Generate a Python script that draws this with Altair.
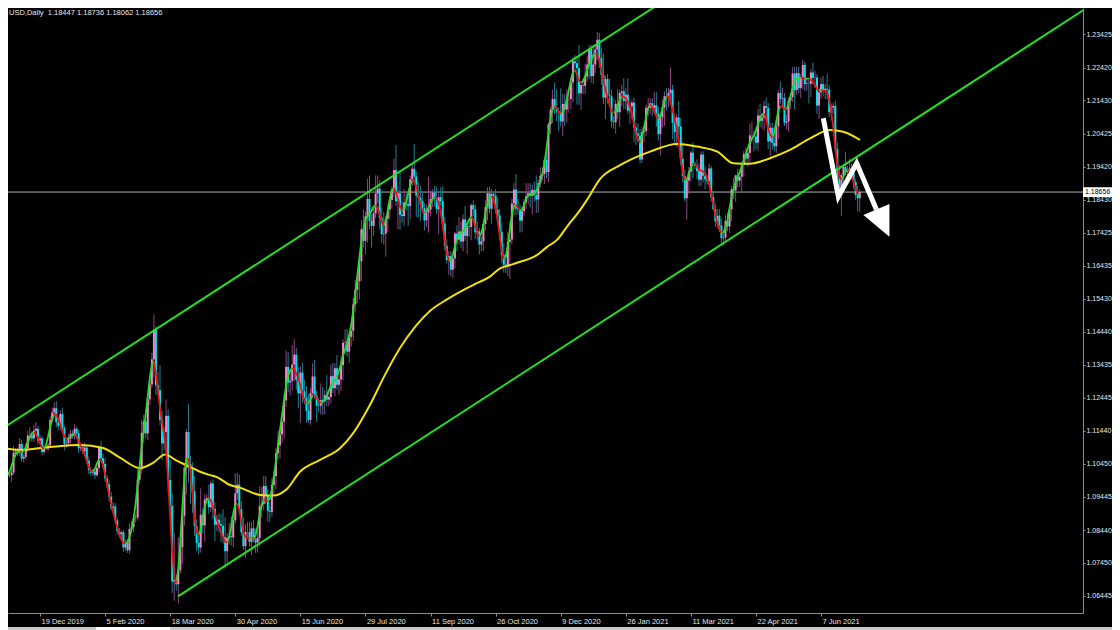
import altair as alt
import numpy as np
import pandas as pd

# ---------------- data ----------------
first_bar = -19            # bar index of the first candle (bar 0 = 19 Dec 2019)
prev_close = 1.1056        # close of the bar before the first one (used as its open)

closes = [
    1.1020, 1.1011, 1.1018, 1.1009, 1.1010,
    1.1018,
    1.1078, 1.1081, 1.1077, 1.1104, 1.1060,
    1.1065, 1.1092, 1.1129, 1.1130, 1.1121,
    1.1144, 1.1150, 1.1114,
    1.1121, 1.1080,
    1.1090, 1.1090, 1.1100, 1.1176, 1.1199,
    1.1212,
    1.1170, 1.1159, 1.1195,
    1.1152, 1.1105, 1.1106, 1.1120,
    1.1135, 1.1128, 1.1150, 1.1137, 1.1091,
    1.1095, 1.1082, 1.1093, 1.1054, 1.1025,
    1.1017, 1.1021, 1.1010, 1.1032, 1.1093,
    1.1061, 1.1044, 1.1000, 1.0982, 1.0945,
    1.0911, 1.0915, 1.0873, 1.0840, 1.0831,
    1.0837, 1.0791, 1.0805, 1.0783, 1.0847,
    1.0852, 1.0880, 1.0882, 1.0996, 1.1027,
    1.1138, 1.1172, 1.1136, 1.1239, 1.1284,
    1.1360,
    1.1450, 1.1282, 1.1267, 1.1177, 1.1106,
    1.1140,
    1.1189, 1.0995, 1.0918, 1.0688, 1.0694,
    1.0680,
    1.0722, 1.0792, 1.0887, 1.1032, 1.1140,
    1.1043, 1.1029, 1.0961, 1.0856, 1.0805,
    1.0791, 1.0890, 1.0858, 1.0936, 1.0941,
    1.0913, 1.0985, 1.0908, 1.0860, 1.0875,
    1.0862, 1.0857, 1.0823, 1.0780, 1.0820,
    1.0825, 1.0822, 1.0873, 1.0955, 1.0981,
    1.0907, 1.0837, 1.0795, 1.0838, 1.0838,
    1.0808, 1.0849, 1.0816, 1.0806, 1.0820,
    1.0916, 1.0923, 1.0977, 1.0947, 1.0902,
    1.0899, 1.0980, 1.1007, 1.1076, 1.1100,
    1.1133, 1.1171, 1.1236, 1.1337, 1.1290,
    1.1295, 1.1344, 1.1374, 1.1298, 1.1257,
    1.1320, 1.1263, 1.1244, 1.1204, 1.1177,
    1.1258, 1.1308, 1.1250, 1.1220, 1.1219,
    1.1237, 1.1233, 1.1252, 1.1238, 1.1246,
    1.1309, 1.1273, 1.1333, 1.1283, 1.1299,
    1.1342, 1.1410, 1.1411, 1.1383, 1.1428,
    1.1446, 1.1526, 1.1570, 1.1596, 1.1656,
    1.1753, 1.1718, 1.1792, 1.1845, 1.1779,
    1.1763, 1.1801, 1.1861, 1.1876, 1.1788,
    1.1738, 1.1740, 1.1785, 1.1813, 1.1842,
    1.1870, 1.1932, 1.1838, 1.1862, 1.1797,
    1.1793, 1.1834, 1.1830, 1.1823, 1.1904,
    1.1936, 1.1913, 1.1855, 1.1849, 1.1839,
    1.1817, 1.1780, 1.1803, 1.1812, 1.1845,
    1.1864, 1.1846, 1.1814, 1.1850, 1.1838,
    1.1771, 1.1703, 1.1660, 1.1672, 1.1631,
    1.1665, 1.1740, 1.1722, 1.1746, 1.1716,
    1.1783, 1.1733, 1.1762, 1.1760, 1.1826,
    1.1813, 1.1744, 1.1747, 1.1707, 1.1717,
    1.1769, 1.1820, 1.1862, 1.1815, 1.1860,
    1.1855,
    1.1812, 1.1795, 1.1746, 1.1676, 1.1646,
    1.1641, 1.1715, 1.1722, 1.1831, 1.1873,
    1.1815, 1.1812, 1.1779, 1.1808, 1.1835,
    1.1853, 1.1862, 1.1854, 1.1872, 1.1856,
    1.1843, 1.1893, 1.1915, 1.1920, 1.1963,
    1.1926, 1.2071, 1.2114, 1.2147, 1.2121,
    1.2110, 1.2104, 1.2079, 1.2132, 1.2115,
    1.2146, 1.2147, 1.2197, 1.2261, 1.2255,
    1.2240, 1.2164, 1.2189, 1.2187,
    1.2214, 1.2251, 1.2298, 1.2216,
    1.2251, 1.2297, 1.2326, 1.2271, 1.2220,
    1.2151, 1.2207, 1.2158, 1.2155, 1.2080,
    1.2077, 1.2132, 1.2107, 1.2165, 1.2170,
    1.2141, 1.2160, 1.2112, 1.2125, 1.2136,
    1.2061, 1.2043, 1.2036, 1.1964, 1.2047,
    1.2050, 1.2120, 1.2120, 1.2134, 1.2120,
    1.2128, 1.2103, 1.2041, 1.2091, 1.2121,
    1.2155, 1.2152, 1.2165, 1.2175, 1.2075,
    1.2047, 1.2091, 1.2064, 1.1966, 1.1914,
    1.1847, 1.1900, 1.1927, 1.1985, 1.1952,
    1.1945,
    1.1929, 1.1903, 1.1979, 1.1915, 1.1904,
    1.1898,
    1.1937, 1.1850, 1.1814, 1.1778, 1.1794,
    1.1765, 1.1726, 1.1728, 1.1778, 1.1762,
    1.1813, 1.1874, 1.1870, 1.1916, 1.1900,
    1.1912, 1.1947, 1.1980, 1.1967, 1.1984,
    1.2037, 1.2037, 1.2033, 1.2015, 1.2097,
    1.2081, 1.2090, 1.2126, 1.2120, 1.2019,
    1.2060, 1.2014, 1.2004, 1.2064, 1.2165,
    1.2148, 1.2150, 1.2075, 1.2079, 1.2142,
    1.2153, 1.2224, 1.2174, 1.2225, 1.2180,
    1.2212, 1.2250, 1.2192, 1.2194, 1.2193,
    1.2227, 1.2211, 1.2212, 1.2127, 1.2167,
    1.2192, 1.2172, 1.2178, 1.2175, 1.2107,
    1.2121, 1.2126, 1.1995, 1.1907, 1.1864,
    1.1917, 1.1941, 1.1926, 1.1929, 1.1937,
    1.1924, 1.1896, 1.1857, 1.1847, 1.1866,
]

upper_wick_pips = [
    15, 10, 12, 8, 6, 14, 20, 10, 12, 18, 12, 9, 15, 14, 25, 12, 16, 20, 8,
    10, 8, 10, 4, 6, 12, 16, 18, 22, 10, 12, 18, 8, 10, 14, 12, 10, 14, 6, 10,
    12, 10, 14, 8, 12, 10, 8, 8, 14, 6,
    20, 14, 18, 10, 12, 14, 12, 10, 8, 10, 6, 8, 10, 12, 16, 20, 12, 10, 30, 24,
    40, 20, 35, 16, 22,
    20, 45, 10, 40, 75, 28, 15, 50, 20, 60, 36, 140, 15, 100, 40, 10, 5, 10,
    85, 25, 20, 45, 20, 30, 80, 20, 15, 12, 40, 8, 12, 20, 15, 20, 30, 50, 60, 15,
    40, 60, 15, 60, 35, 30, 25, 45, 25, 30, 30, 20, 25, 30, 25, 60, 50, 30, 30, 20,
    15, 20, 15, 15, 45, 20, 25, 20, 50, 45, 30, 60, 48, 20, 40, 20, 30, 35, 35, 50,
    15, 40, 50, 15, 25, 50, 40, 15, 60, 15, 35, 40, 15, 40, 20, 30, 10, 40, 40, 10,
    25, 20, 30, 25, 10, 28, 60, 15, 60, 70, 20, 20, 55, 40, 25, 30, 65, 10, 15, 10,
    13, 34, 75, 20, 70, 40, 40, 30, 25, 12, 16, 75, 15, 40, 35, 25, 15, 25, 100, 25,
    10, 20, 35, 10, 30, 45, 20, 20, 15, 15, 15, 5, 25, 45, 30, 15, 40, 10, 20, 5,
    15, 15, 30, 10, 15, 10, 20, 18, 20, 15,
    5,
    20, 35, 20, 25, 35, 30, 30, 55, 15, 20, 47, 30, 15, 15, 10, 40, 30, 30, 15, 25,
    60, 10, 25, 20, 5, 40, 5, 10, 28, 50, 55, 10, 75, 30, 30, 30, 20, 15, 12, 18,
    20, 70, 10, 20, 40, 25, 12, 12,
    60, 10, 23, 20, 30, 65, 10, 15, 50, 20, 15, 12, 45, 10, 20, 40, 20, 50, 15, 10,
    15, 15, 30, 20, 15, 10, 10, 30, 15, 15, 40, 40, 20, 10, 25, 15, 25, 15, 68, 15,
    20, 10, 50, 25, 50, 20, 10, 15, 5, 30,
    5,
    20, 23, 10, 10, 29,
    5,
    15, 8, 19, 18, 20, 20, 20, 20, 18, 25, 10, 10, 35, 2, 20, 15, 10, 10, 20, 10,
    35, 42, 15, 30, 20, 35, 15, 15, 25, 15, 15, 15, 25, 10, 10, 35, 30, 15, 20, 10,
    10, 20, 20, 20, 20, 10, 16, 10, 15, 15, 10, 30, 20, 10, 15, 20, 25, 15, 45, 15,
    10, 10, 15, 20, 40, 5, 10, 45, 15, 30, 15, 10, 10, 25, 8,
]

lower_wick_pips = [
    22, 12, 8, 10, 6, 20, 8, 14, 10, 8, 10, 12, 8, 12, 18, 10, 10, 8, 12,
    12, 10, 8, 6, 8, 6, 10, 8, 16, 14, 12, 10, 20, 12, 10, 14, 8, 10, 12, 14,
    8, 8, 10, 10, 12, 8, 10, 12, 6, 14,
    10, 12, 10, 12, 14, 8, 10, 12, 10, 10, 14, 12, 10, 8, 10, 12, 14, 12, 10, 14,
    12, 30, 16, 20, 18,
    10, 55, 30, 15, 16, 50, 20, 60, 35, 25, 34, 58, 20, 58, 10, 50, 30, 80,
    55, 105, 65, 30, 25, 20, 15, 25, 50, 10, 20, 15, 30, 50, 20, 25, 50, 20, 52, 45,
    20, 25, 30, 10, 20, 15, 10, 13, 35, 15, 15, 40, 10, 32, 30, 25, 35, 20, 25, 35,
    30, 15, 30, 40, 20, 40, 25, 50, 20, 30, 40, 30, 50, 30, 45, 90, 35, 20, 35, 10,
    15, 15, 10, 50, 20, 25, 40, 40, 20, 20, 20, 15, 25, 15, 30, 35, 45, 35, 15, 35,
    30, 30, 25, 40, 55, 60, 20, 40, 80, 25, 65, 30, 15, 30, 35, 25, 30, 70, 40, 30,
    25, 20, 15, 85, 45, 20, 30, 20, 60, 40, 20, 25, 65, 60, 60, 15, 30, 20, 60, 20,
    25, 25, 15, 75, 15, 20, 15, 10, 45, 20, 25, 30, 35, 15, 20, 30, 15, 55, 30, 40,
    20, 20, 25, 30, 20, 30, 20, 40, 15, 45,
    8,
    10, 20, 25, 25, 24, 20, 30, 112, 15, 40, 20, 15, 35, 35, 15, 20, 25, 35, 55, 20,
    40, 40, 15, 15, 30, 20, 30, 30, 40, 20, 30, 55, 15, 45, 50, 40, 40, 30, 60, 25,
    110, 35, 50, 25, 25, 15, 45, 20,
    23, 25, 32, 30, 30, 20, 65, 25, 20, 20, 20, 35, 20, 45, 40, 25, 25, 10, 40, 40,
    45, 35, 20, 12, 10, 30, 15, 25, 20, 25, 20, 40, 20, 65, 30, 55, 40, 30, 20, 50,
    35, 45, 25, 20, 20, 10, 65, 40, 30, 45,
    10,
    25, 20, 19, 20, 30,
    10,
    12, 14, 4, 17, 20, 20, 15, 22, 10, 15, 20, 35, 25, 35, 20, 20, 45, 35, 20, 25,
    30, 20, 45, 20, 25, 20, 25, 40, 35, 25, 45, 20, 15, 20, 37, 15, 30, 10, 20, 30,
    25, 15, 60, 15, 15, 30, 35, 20, 20, 60, 40, 20, 30, 25, 40, 20, 15, 25, 30, 15,
    25, 20, 5, 15, 20, 70, 35, 10, 30, 20, 20, 20, 15, 40, 41,
]

# yellow moving average (bar index, price)
ma_bars = [-19.7, -9.8, 4.9, 19.7, 31.0, 39.3, 49.2, 55.6, 61.5, 67.4,
           73.7, 78.7, 83.6, 87.0, 93.4, 98.3, 108.2, 114.6, 121.4, 127.8,
           137.7, 147.5, 153.9, 162.2, 169.6, 177.0, 184.4, 191.7, 200.1, 209.9,
           214.8, 221.2, 226.2, 231.1, 234.5, 244.3, 249.3, 254.2, 259.1, 265.5,
           268.9, 275.3, 285.2, 290.1, 299.9, 313.2, 323.0, 333.0, 340.7, 349.0,
           358.9, 368.7, 378.6, 388.4, 394.8, 403.2]
ma_values = [1.1094, 1.1086, 1.1095, 1.1101, 1.1092, 1.1063, 1.1031, 1.1047, 1.1072, 1.1053,
             1.1035, 1.1020, 1.1010, 1.1004, 1.0980, 1.0972, 1.0950, 1.0948, 1.0968, 1.1020,
             1.1056, 1.1091, 1.1136, 1.1222, 1.1313, 1.1394, 1.1458, 1.1506, 1.1541, 1.1575,
             1.1590, 1.1610, 1.1635, 1.1645, 1.1652, 1.1675, 1.1700, 1.1721, 1.1761, 1.1811,
             1.1842, 1.1905, 1.1947, 1.1963, 1.1988, 1.2011, 1.2003, 1.1988, 1.1953, 1.1951,
             1.1968, 1.1993, 1.2028, 1.2053, 1.2048, 1.2023]

# trend channel (two parallel lines), anchor points (bar index, price)
upper_channel_bars = [-20.0, 310.0]
upper_channel_prices = [1.11450, 1.24564]
lower_channel_bars = [67.85, 520.0]
lower_channel_prices = [1.06436, 1.24436]

# white arrow drawn on the chart
arrow_bars = [385.1, 392.5, 401.5, 411.2]
arrow_prices = [1.20886, 1.18516, 1.19525, 1.18129]
arrow_head_bars = [404.8, 417.6]
arrow_head_low = [1.17962, 1.17306]
arrow_head_high = [1.17962, 1.18295]

last_price = 1.18656
header_text = "USD,Daily\u00a0\u00a01.18447 1.18736 1.18062 1.18656"

date_tick_bars = [0, 32, 64, 96, 128, 160, 192, 224, 256, 288, 320, 352, 384]
date_tick_labels = ["19 Dec 2019", "5 Feb 2020", "18 Mar 2020", "30 Apr 2020",
                    "15 Jun 2020", "29 Jul 2020", "11 Sep 2020", "26 Oct 2020",
                    "9 Dec 2020", "26 Jan 2021", "11 Mar 2021", "22 Apr 2021",
                    "7 Jun 2021"]
price_ticks = [1.23425, 1.22420, 1.21430, 1.20425, 1.19420, 1.18430, 1.17425,
               1.16435, 1.15430, 1.14440, 1.13435, 1.12445, 1.11440, 1.10450,
               1.09445, 1.08440, 1.07450, 1.06445]

# ---------------- build tables ----------------
n = min(len(closes), len(upper_wick_pips), len(lower_wick_pips))
c = np.array(closes[:n])
o = np.concatenate([[prev_close], c[:-1]])
hi = np.maximum(o, c) + np.array(upper_wick_pips[:n]) * 0.0001
lo = np.minimum(o, c) - np.array(lower_wick_pips[:n]) * 0.0001
bars = np.arange(first_bar, first_bar + n)
candles = pd.DataFrame({"bar": bars, "open": o, "close": c, "high": hi, "low": lo})

# smoothed close (local quadratic fit), coloured by direction
def local_quadratic(y, h=5):
    out = []
    m = len(y)
    for k in range(m):
        a, b = max(0, k - h), min(m, k + h + 1)
        xs_ = np.arange(a, b) - k
        w = np.sqrt(h + 1 - np.abs(xs_))
        coef = np.polyfit(xs_, y[a:b], 2, w=w)
        out.append(coef[-1])
    return np.array(out)

sm = local_quadratic(c)
rows = []
grp = 0
prev_dir = None
for k in range(n - 1):
    d = "up" if sm[k + 1] >= sm[k] else "down"
    if d != prev_dir:
        grp += 1
        prev_dir = d
        rows.append({"bar": bars[k], "v": sm[k], "grp": grp, "dir": d, "ord": k})
    rows.append({"bar": bars[k + 1], "v": sm[k + 1], "grp": grp, "dir": d, "ord": k + 1})
smooth_df = pd.DataFrame(rows)

ma_df = pd.DataFrame({"bar": ma_bars, "v": ma_values})
chan_df = pd.DataFrame({
    "bar": upper_channel_bars + lower_channel_bars,
    "v": upper_channel_prices + lower_channel_prices,
    "line": ["upper", "upper", "lower", "lower"],
})
arrow_df = pd.DataFrame({"bar": arrow_bars, "v": arrow_prices, "ord": list(range(len(arrow_bars)))})
head_df = pd.DataFrame({"bar": arrow_head_bars, "lo": arrow_head_low, "hi": arrow_head_high})
price_df = pd.DataFrame({"v": [last_price], "t": [f"{last_price:.5f}"]})
header_df = pd.DataFrame({"t": [header_text]})
strip_df = pd.DataFrame({"part": ["bar", "tab"]})

# ---------------- scales / axes ----------------
W, H = 1075, 605
PAD_R, PAD_B = 29, 17          # whole chart = 1104 x 622, fits the page body
x_dom = [-15.73, 512.77]
y_dom = [1.05931, 1.24220]
FONT = "Liberation Sans"
LBL = "#e6e6e6"
AX = "#8c8c8c"

xs = alt.Scale(domain=x_dom, nice=False, zero=False)
ys = alt.Scale(domain=y_dom, nice=False, zero=False)

label_js = "[" + ",".join("'" + s + "'" for s in date_tick_labels) + "]"
x_axis = alt.Axis(values=date_tick_bars, labelExpr=f"{label_js}[round(datum.value/32)]",
                  orient="bottom", title=None, grid=False, domainColor=AX, tickColor=AX,
                  tickSize=3, labelColor=LBL, labelFont=FONT, labelFontSize=7.5,
                  labelAlign="left", labelBaseline="top", labelPadding=1, labelOffset=1,
                  labelOverlap=False, labelFlush=False)
y_axis = alt.Axis(values=price_ticks, format=".5f", orient="right", title=None, grid=False,
                  domainColor=AX, tickColor=AX, tickSize=2, labelColor=LBL, labelFont=FONT,
                  labelFontSize=7, labelAlign="left", labelBaseline="middle",
                  labelPadding=1, labelOverlap=False, labelFlush=False)

def X(f="bar"):
    return alt.X(f"{f}:Q", scale=xs, axis=x_axis)

def Y(f):
    return alt.Y(f"{f}:Q", scale=ys, axis=y_axis)

price_line = alt.Chart(price_df).mark_rule(color="#b0b0b0", strokeWidth=1).encode(y=Y("v"))

up_test = "datum.close >= datum.open"
wicks = alt.Chart(candles).mark_rule(strokeWidth=1, clip=True).encode(
    x=X(), y=Y("low"), y2="high:Q",
    color=alt.condition(up_test, alt.value("#8e4480"), alt.value("#1f808e")))
bodies = alt.Chart(candles).mark_rule(strokeWidth=2, clip=True).encode(
    x=X(), y=Y("open"), y2="close:Q",
    color=alt.condition(up_test, alt.value("#f088c8"), alt.value("#00e4f0")))

ma_line = alt.Chart(ma_df).mark_line(color="#f2e20a", strokeWidth=2, clip=True,
                                     interpolate="monotone").encode(x=X(), y=Y("v"))

sm_up = alt.Chart(smooth_df).transform_filter("datum.dir == 'up'").mark_line(
    color="#22dd22", strokeWidth=1.8, clip=True).encode(
    x=X(), y=Y("v"), detail="grp:N", order="ord:Q")
sm_dn = alt.Chart(smooth_df).transform_filter("datum.dir == 'down'").mark_line(
    color="#ee1111", strokeWidth=1.8, clip=True).encode(
    x=X(), y=Y("v"), detail="grp:N", order="ord:Q")

channel = alt.Chart(chan_df).mark_line(color="#22e022", strokeWidth=2, clip=True).encode(
    x=X(), y=Y("v"), detail="line:N")

arrow = alt.Chart(arrow_df).mark_line(color="white", strokeWidth=5, strokeJoin="miter",
                                      strokeCap="butt", clip=True).encode(
    x=X(), y=Y("v"), order="ord:Q")
arrow_head = alt.Chart(head_df).mark_area(color="white", opacity=1, clip=True).encode(
    x=X(), y=Y("lo"), y2="hi:Q")

price_box = alt.Chart(price_df).mark_point(
    shape="M-1,-0.28L1,-0.28L1,0.28L-1,0.28Z", filled=True, fill="white",
    stroke="white", opacity=1, size=784).encode(
    x=alt.value(W + 15), y=Y("v"))
price_txt = alt.Chart(price_df).mark_text(
    align="left", baseline="middle", color="black", font=FONT, fontSize=7).encode(
    x=alt.value(W + 2), y=Y("v"), text="t:N")

header = alt.Chart(header_df).mark_text(
    align="left", baseline="top", color=LBL, font=FONT, fontSize=7.5).encode(
    x=alt.value(1), y=alt.value(1), text="t:N")

# terminal tab strip below the chart window
strip = alt.Chart(strip_df).transform_filter("datum.part == 'bar'").mark_rect(
    color="#c8c8c8").encode(x=alt.value(-8), x2=alt.value(W + PAD_R),
                            y=alt.value(H + 14), y2=alt.value(H + PAD_B))
tab = alt.Chart(strip_df).transform_filter("datum.part == 'tab'").mark_rect(
    color="#ffffff").encode(x=alt.value(88), x2=alt.value(162),
                            y=alt.value(H + 14), y2=alt.value(H + PAD_B))

chart = alt.layer(
    price_line, wicks, bodies, ma_line, sm_up, sm_dn, channel, arrow, arrow_head,
    price_box, price_txt, header, strip, tab
).properties(
    width=W, height=H,
    autosize=alt.AutoSizeParams(type="none"),
    padding={"left": 0, "top": 0, "right": PAD_R, "bottom": PAD_B},
    background="black",
).configure_view(stroke=None, fill="black")

chart.save("out.html", embed_options={"renderer": "svg", "actions": False})
